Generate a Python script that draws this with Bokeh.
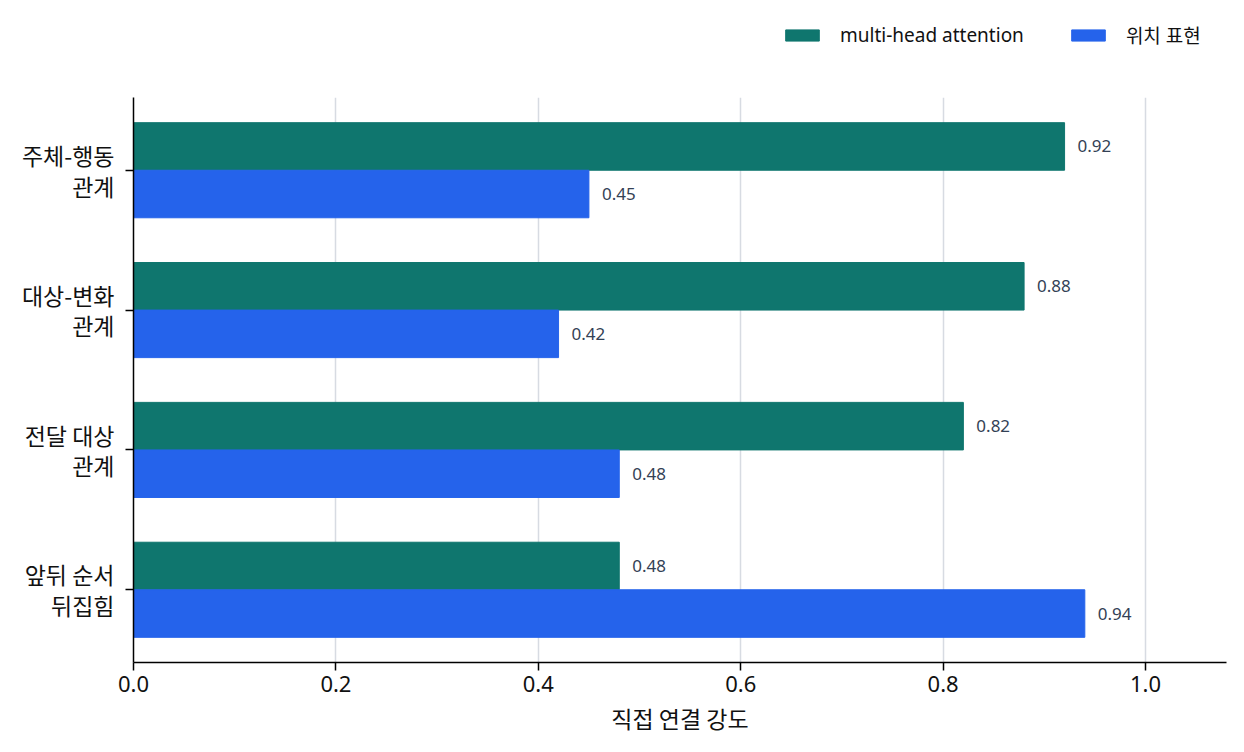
from bokeh.plotting import figure
from bokeh.layouts import column
from bokeh.models import ColumnDataSource, Legend, LegendItem, FixedTicker, Range1d
from bokeh.embed import file_html
from bokeh.resources import INLINE

categories = ["주체-행동\n관계", "대상-변화\n관계", "전달 대상\n관계", "앞뒤 순서\n뒤집힘"]
attention_vals = [0.92, 0.88, 0.82, 0.48]
position_vals = [0.45, 0.42, 0.48, 0.94]
series_names = ["multi-head attention", "위치 표현"]
x_ticks = [0.0, 0.2, 0.4, 0.6, 0.8, 1.0]

KFONT = "Noto Sans CJK KR"
LFONT = "Noto Sans"
MIXFONT = "Noto Sans, Noto Sans CJK KR"
TEAL = "#0f766e"
BLUE = "#2563eb"

W, H, TOP = 1244, 752, 97

n = len(categories)
ypos = [n - 1 - i for i in range(n)]
off = 0.17
h = 0.34

src_a = ColumnDataSource(dict(y=[y + off for y in ypos], x=attention_vals,
                              lbl=[f"{v:.2f}" for v in attention_vals]))
src_b = ColumnDataSource(dict(y=[y - off for y in ypos], x=position_vals,
                              lbl=[f"{v:.2f}" for v in position_vals]))

fig = figure(width=W, height=H - TOP, output_backend="svg", toolbar_location=None,
             x_range=Range1d(0, 1.08), y_range=Range1d(-0.52, n - 1 + 0.52),
             min_border_left=133, min_border_right=18, min_border_top=0, min_border_bottom=90)

fig.hbar(y="y", right="x", left=0, height=h, color=TEAL, source=src_a)
fig.hbar(y="y", right="x", left=0, height=h, color=BLUE, source=src_b)

for src in (src_a, src_b):
    fig.text(x="x", y="y", text="lbl", source=src, x_offset=13, text_baseline="middle",
             text_align="left", text_font_size="17px", text_color="#334155",
             text_font={"value": LFONT})

fig.outline_line_color = None
fig.ygrid.visible = False
fig.xgrid.ticker = FixedTicker(ticks=x_ticks)
fig.xgrid.grid_line_color = "#d7dbe2"
fig.xgrid.grid_line_width = 1.5

fig.xaxis.ticker = FixedTicker(ticks=x_ticks)
fig.xaxis.major_label_overrides = {t: f"{t:.1f}" for t in x_ticks}
fig.yaxis.ticker = FixedTicker(ticks=ypos)
fig.yaxis.major_label_overrides = {y: c for y, c in zip(ypos, categories)}

for ax in (fig.xaxis[0], fig.yaxis[0]):
    ax.axis_line_color = "black"
    ax.axis_line_width = 1.5
    ax.major_tick_line_color = "black"
    ax.major_tick_line_width = 1.5
    ax.major_tick_out = 8
    ax.major_tick_in = 0
    ax.minor_tick_line_color = None
    ax.major_label_text_color = "#111111"
    ax.axis_label_text_font = KFONT
    ax.axis_label_text_font_size = "23px"
    ax.axis_label_text_font_style = "normal"
    ax.axis_label_text_color = "#111111"

fig.xaxis.major_label_text_font = LFONT
fig.xaxis.major_label_text_font_size = "22px"
fig.yaxis.major_label_text_font = KFONT
fig.yaxis.major_label_text_font_size = "23px"
fig.yaxis.major_label_text_align = "right"
fig.yaxis.major_label_text_line_height = 0.9
fig.xaxis.axis_label = "직접 연결 강도"
fig.xaxis.axis_label_standoff = 6
fig.xaxis.major_label_standoff = 5
fig.yaxis.major_label_standoff = 11

# legend strip above the plot (frames of the column are aligned, origin at x=133)
leg = figure(width=W, height=TOP, output_backend="svg", toolbar_location=None,
             x_range=Range1d(0, 1), y_range=Range1d(100, 101),
             x_axis_type=None, y_axis_type=None, min_border=0)
leg.outline_line_color = None
leg.grid.visible = False
l1 = leg.hbar(y="y", right="x", left=0, height=h, color=TEAL, source=src_a)
l2 = leg.hbar(y="y", right="x", left=0, height=h, color=BLUE, source=src_b)
legend = Legend(items=[LegendItem(label=series_names[0], renderers=[l1]),
                       LegendItem(label=series_names[1], renderers=[l2])],
                orientation="horizontal", location=(648, 48),
                label_text_font=MIXFONT, label_text_font_size="19px", label_text_color="#111111",
                glyph_width=42, glyph_height=14, label_standoff=17, spacing=43,
                border_line_color=None, background_fill_alpha=0,
                margin=0, padding=0)
leg.add_layout(legend, "center")

p = column(leg, fig, spacing=0)

open("out.html", "w").write(file_html(p, INLINE))
